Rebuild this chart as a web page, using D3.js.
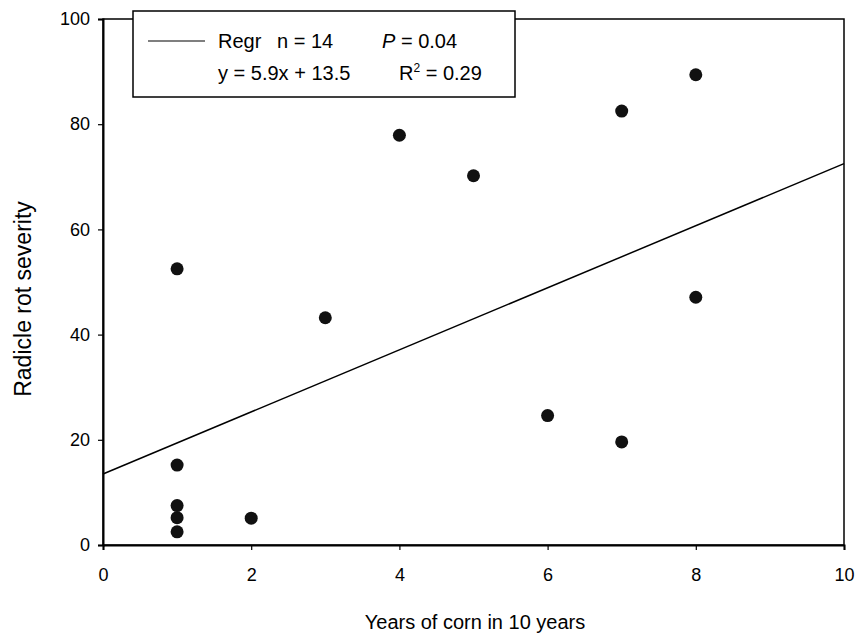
<!DOCTYPE html>
<html>
<head>
<meta charset="utf-8">
<script src="https://cdn.jsdelivr.net/npm/d3@7"></script>
<style>
  html, body { margin: 0; padding: 0; background: #fff; }
  svg { display: block; font-family: "Liberation Sans", Arial, sans-serif; }
</style>
</head>
<body>
<svg id="chart" width="858" height="640"></svg>
<script>
// ---- data ----
const yearsCorn = [1, 1, 1, 1, 1, 2, 3, 4, 5, 6, 7, 7, 8, 8];
const rotSeverity = [52.5, 15.2, 7.5, 5.2, 2.5, 5.1, 43.2, 77.9, 70.2, 24.6, 19.6, 82.5, 47.1, 89.4];
const regrSlope = 5.9;
const regrIntercept = 13.5;
const xTicks = [0, 2, 4, 6, 8, 10];
const yTicks = [0, 20, 40, 60, 80, 100];
const xTitle = "Years of corn in 10 years";
const yTitle = "Radicle rot severity";
const legendN = "n = 14";
const legendP = "0.04";
const legendEq = "y = 5.9x + 13.5";
const legendR2 = "0.29";

// ---- layout ----
const svg = d3.select("#chart");
const pLeft = 103, pRight = 844, pTop = 19, pBottom = 545;

const x = d3.scaleLinear().domain([0, 10]).range([pLeft, pRight]);
const y = d3.scaleLinear().domain([0, 100]).range([pBottom, pTop]);

// frame
svg.append("rect")
  .attr("x", pLeft).attr("y", pTop)
  .attr("width", pRight - pLeft).attr("height", pBottom - pTop)
  .attr("fill", "none").attr("stroke", "#000").attr("stroke-width", 1.5);

// axes
const xAxis = d3.axisBottom(x).tickValues(xTicks).tickSize(5).tickPadding(18).tickFormat(d3.format("d"));
const yAxis = d3.axisLeft(y).tickValues(yTicks).tickSize(5).tickPadding(8).tickFormat(d3.format("d"));

const gx = svg.append("g").attr("transform", `translate(0,${pBottom})`).call(xAxis);
const gy = svg.append("g").attr("transform", `translate(${pLeft},0)`).call(yAxis);
[gx, gy].forEach(g => {
  g.select(".domain").attr("stroke", "#000").attr("stroke-width", 2);
  g.selectAll(".tick line").attr("stroke", "#000").attr("stroke-width", 1.2);
  g.selectAll(".tick text").attr("fill", "#000").style("font-size", "18px")
    .style("font-family", "'Liberation Sans', Arial, sans-serif");
});

// axis titles
svg.append("text")
  .attr("x", 475).attr("y", 629)
  .attr("text-anchor", "middle").style("font-size", "20px")
  .text(xTitle);
svg.append("text")
  .attr("transform", `translate(31,299) rotate(-90)`)
  .attr("text-anchor", "middle").style("font-size", "23px")
  .text(yTitle);

// regression line
svg.append("line")
  .attr("x1", x(0)).attr("y1", y(regrIntercept))
  .attr("x2", x(10)).attr("y2", y(regrIntercept + regrSlope * 10))
  .attr("stroke", "#000").attr("stroke-width", 1.5);

// points
svg.append("g").selectAll("circle")
  .data(yearsCorn.map((d, i) => [d, rotSeverity[i]]))
  .join("circle")
  .attr("cx", d => x(d[0])).attr("cy", d => y(d[1]))
  .attr("r", 6.5).attr("fill", "#111");

// legend
const lg = svg.append("g").style("font-size", "20px");
lg.append("rect")
  .attr("x", 133).attr("y", 11).attr("width", 382).attr("height", 86)
  .attr("fill", "#fff").attr("stroke", "#000").attr("stroke-width", 1.5);
lg.append("line")
  .attr("x1", 148).attr("x2", 205).attr("y1", 41).attr("y2", 41)
  .attr("stroke", "#000").attr("stroke-width", 1.2);
lg.append("text").attr("x", 218).attr("y", 48).text("Regr");
lg.append("text").attr("x", 277).attr("y", 48).text(legendN);
const tp = lg.append("text").attr("x", 382).attr("y", 48);
tp.append("tspan").text("P").style("font-style", "italic");
tp.append("tspan").text(" = " + legendP);
lg.append("text").attr("x", 218).attr("y", 80).text(legendEq);
const tr = lg.append("text").attr("x", 399).attr("y", 80);
tr.append("tspan").text("R");
tr.append("tspan").text("2").attr("dy", -8).style("font-size", "12px");
tr.append("tspan").text(" = " + legendR2).attr("dy", 8);
</script>
</body>
</html>
